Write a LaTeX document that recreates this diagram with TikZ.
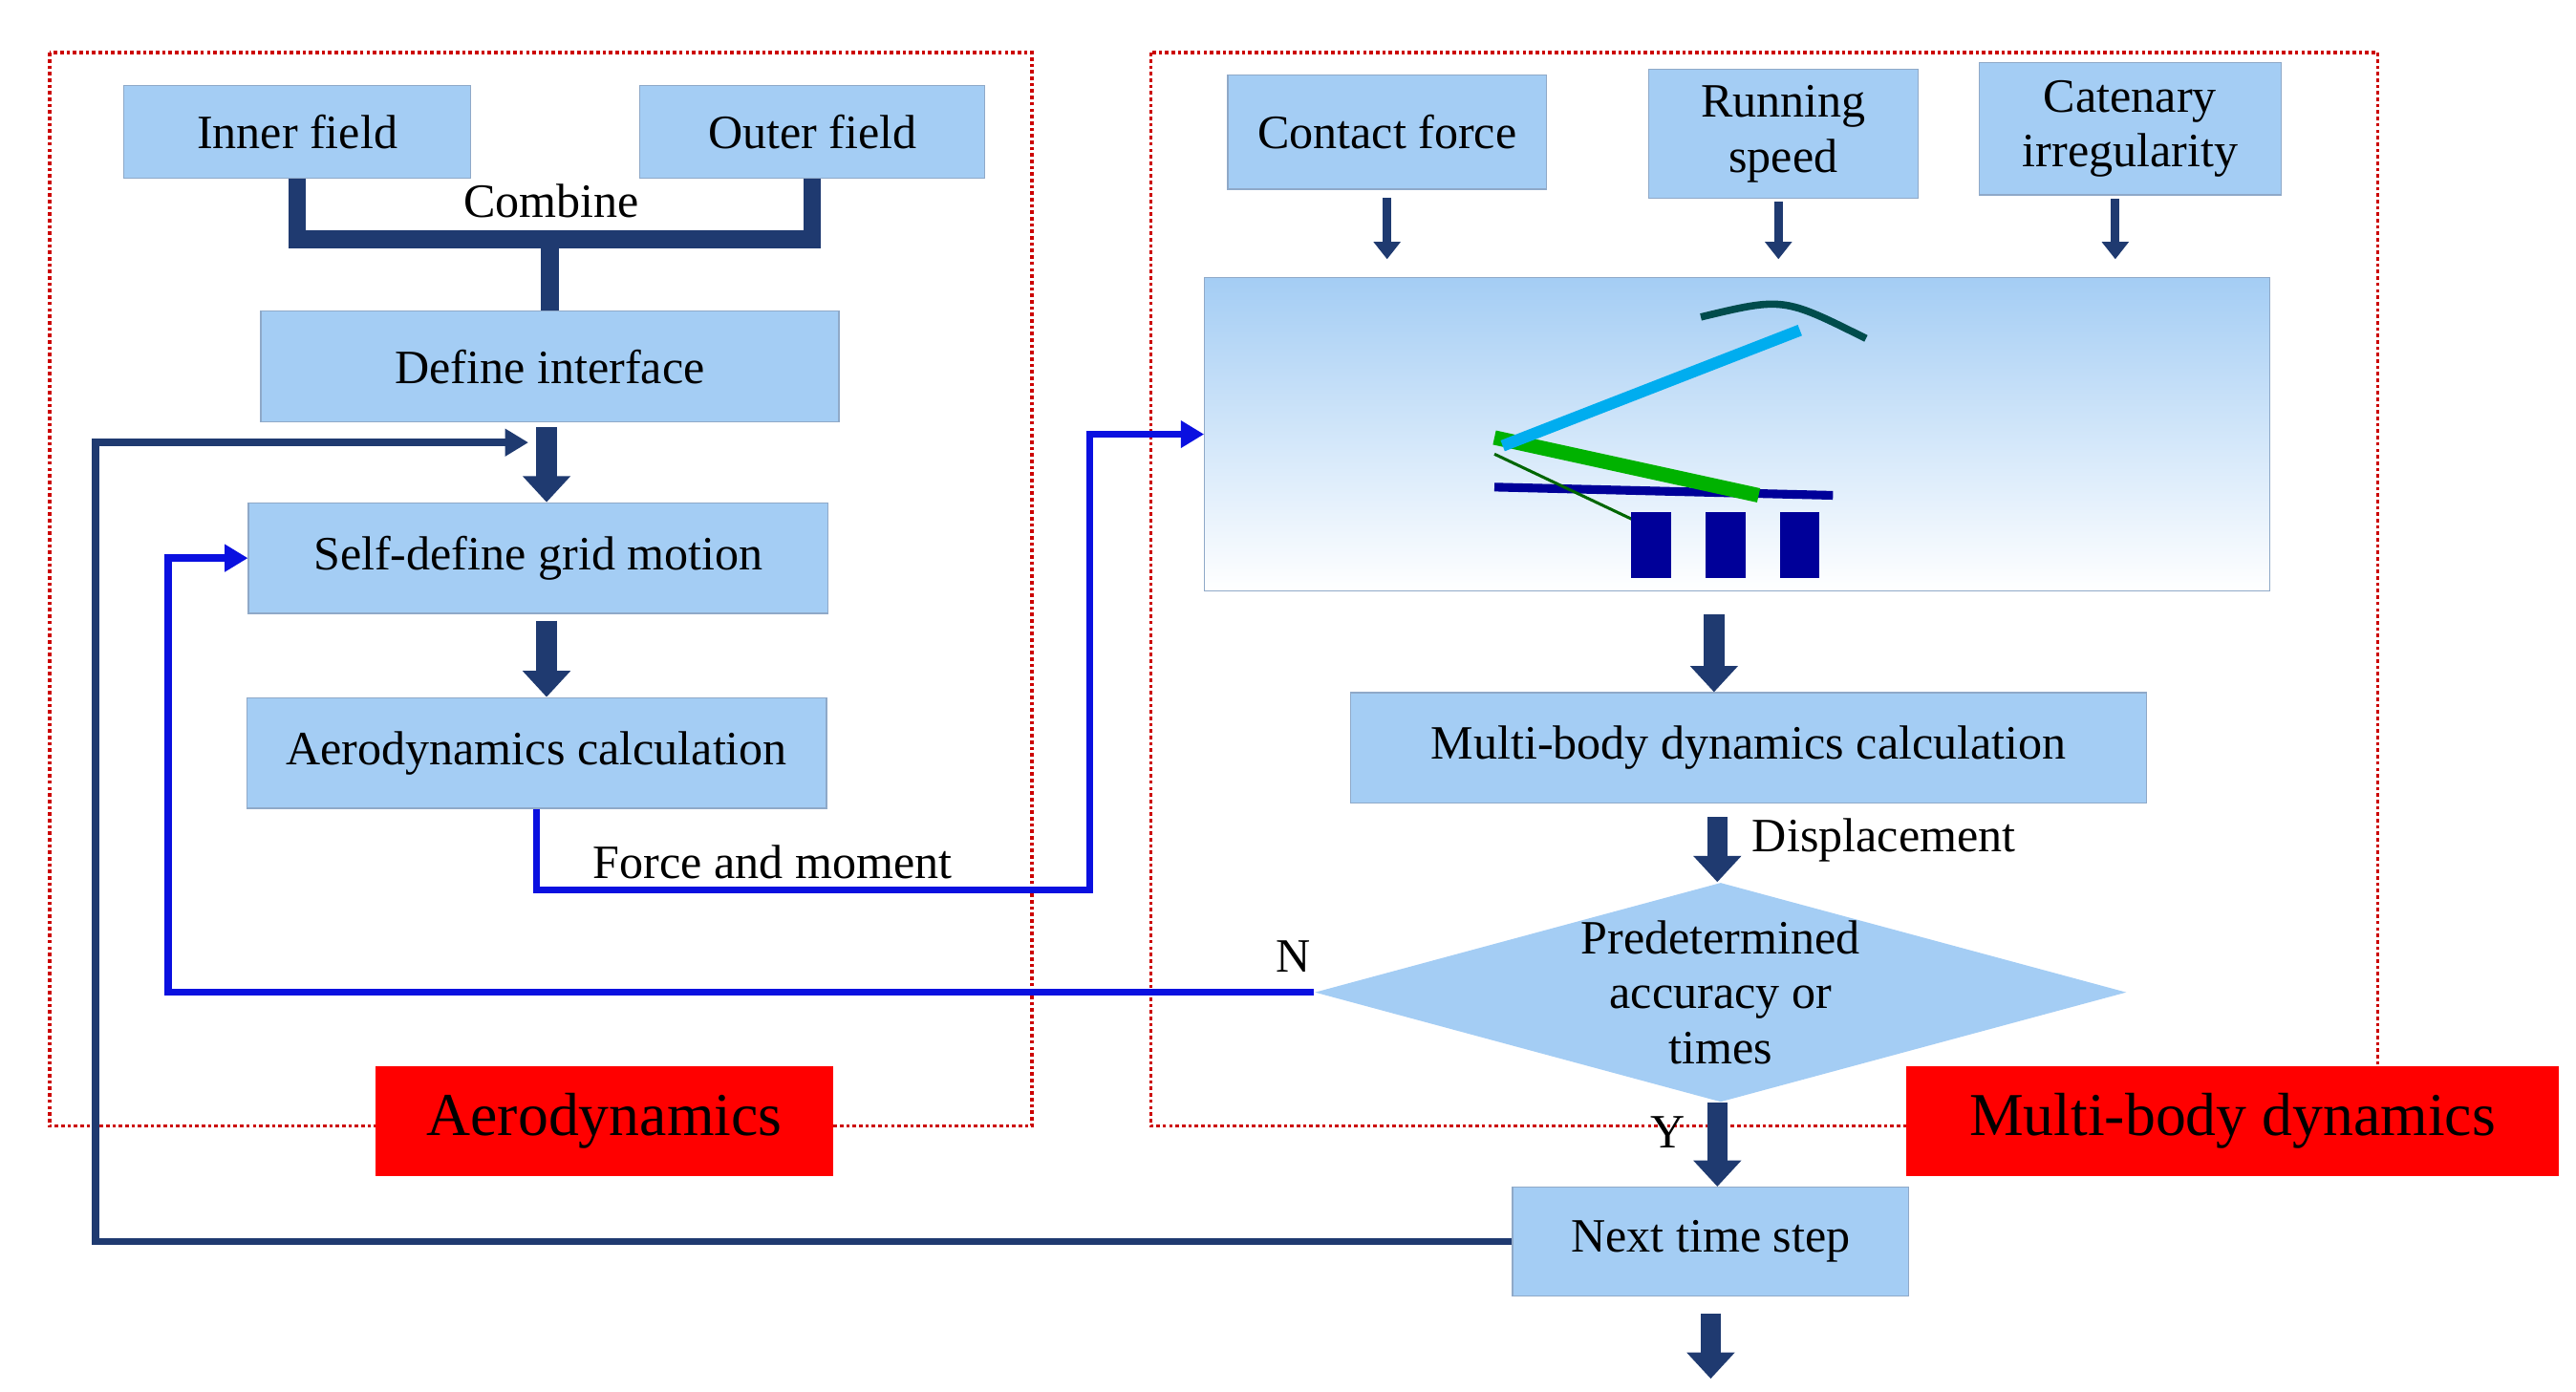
\documentclass[tikz,border=0pt]{standalone}
\usepackage{fontspec}
\setmainfont{Liberation Serif}
\usetikzlibrary{positioning, arrows.meta, shapes.geometric}

\definecolor{boxblue}{HTML}{A4CDF4}
\definecolor{edgeblue}{HTML}{8FA9C8}
\definecolor{navy}{HTML}{1F3A70}
\definecolor{flowblue}{HTML}{0A10E0}

\begin{document}
\begin{tikzpicture}[x=0.02cm, y=-0.02cm,
  every node/.style={font=\fontsize{16.5}{19}\selectfont, align=center},
  box/.style={draw=edgeblue, fill=boxblue, rectangle, inner sep=0pt},
  tag/.style={fill=red, rectangle, inner sep=0pt, font=\fontsize{21}{23}\selectfont},
  zone/.style={draw=red!80!black, densely dotted, line width=1.2pt},
  bigarrow/.style={navy, line width=7pt, -{Triangle[width=16pt, length=9pt]}},
  smallarrow/.style={navy, line width=3pt, -{Triangle[width=9pt, length=6pt]}},
  flow/.style={flowblue, line width=2.5pt, -{Triangle[width=9pt, length=8pt]}}]

\useasboundingbox (0,0) rectangle (1560,843);

  % Zones
  \draw[zone] (30,32) rectangle (625,682);
  \draw[zone] (697,32) rectangle (1440,682);

  % Aerodynamics side
  \node[box, minimum width=210*0.02cm, minimum height=56*0.02cm] (inner) at (180,80) {Inner field};
  \node[box, minimum width=209*0.02cm, minimum height=56*0.02cm] (outer) at (492,80) {Outer field};
  \node[box, minimum width=350*0.02cm, minimum height=67*0.02cm] (define) at (333,222) {Define interface};
  \node[box, minimum width=351*0.02cm, minimum height=67*0.02cm] (grid) at (326,338) {Self-define grid motion};
  \node[box, minimum width=351*0.02cm, minimum height=67*0.02cm] (aero) at (325,456) {Aerodynamics calculation};
  \node[tag, minimum width=277*0.02cm, minimum height=66*0.02cm] (aerotag) at (366,679) {Aerodynamics};

  % Multi-body side
  \node[box, minimum width=193*0.02cm, minimum height=69*0.02cm] (contact) at (840,80) {Contact force};
  \node[box, minimum width=163*0.02cm, minimum height=78*0.02cm] (speed) at (1080,81) {Running\\speed};
  \node[box, minimum width=183*0.02cm, minimum height=80*0.02cm] (catenary) at (1290,78) {Catenary\\irregularity};
  \node[draw=edgeblue, rectangle, inner sep=0pt, top color=boxblue, bottom color=white,
        minimum width=645*0.02cm, minimum height=190*0.02cm] (model) at (1052,263) {};
  \node[box, minimum width=482*0.02cm, minimum height=67*0.02cm] (mbd) at (1059,453) {Multi-body dynamics calculation};
  \node[box, diamond, aspect=3.7, minimum width=475*0.02cm, minimum height=128*0.02cm, draw=none,
        inner sep=0pt] (check) at (1042,601) {Predetermined\\accuracy or\\times};
  \node[box, minimum width=240*0.02cm, minimum height=66*0.02cm] (next) at (1036,752) {Next time step};
  \node[tag, minimum width=395*0.02cm, minimum height=66*0.02cm] (mbdtag) at (1352,679) {Multi-body dynamics};
  \coordinate (out) at (1036,835);

  % Pantograph sketch
  \draw[blue!60!black, line width=3pt] (905,295) -- (1110,300);
  \draw[green!70!black, line width=5pt] (905,265) -- (1065,300);
  \draw[cyan, line width=4pt] (910,270) -- (1090,200);
  \draw[teal!60!black, line width=2.5pt] (1030,192) .. controls (1080,180) .. (1130,205);
  \draw[green!40!black, line width=1pt] (905,275) -- (1000,320);
  \foreach \px in {1000,1045,1090} {
    \fill[blue!60!black] (\px-12,310) rectangle (\px+12,350);
  }

  % Connectors
  \draw[navy, line width=6pt] (inner.south) |- (333,145) -| (outer.south);
  \draw[navy, line width=6pt] (333,145) -- (define.north);
  \node (combine) at (334,122) {Combine};
  \draw[bigarrow] (define.south -| 331,0) ++(0,3) -- (grid.north -| 331,0);
  \draw[bigarrow] (grid.south -| 331,0) ++(0,4) -- (aero.north -| 331,0);
  \draw[flow] (aero.south) |- (660,539) |- (model.west);
  \node (force) at (468,522) {Force and moment};

  \draw[smallarrow] (contact.south) ++(0,5) -- (840,157);
  \draw[smallarrow] (speed.south -| 1077,0) ++(0,2) -- (1077,157);
  \draw[smallarrow] (catenary.south -| 1281,0) ++(0,2) -- (1281,157);
  \draw[bigarrow] (1038,372) -- (mbd.north -| 1038,0);
  \draw[bigarrow] (mbd.south -| 1040,0) ++(0,8) -- (check.north -| 1040,0);
  \node[anchor=west] (disp) at (1055,509) {Displacement};
  \draw[flow] (check.west) -| (102,338) -- (grid.west);
  \node (nlabel) at (783,579) {N};
  \draw[bigarrow] (check.south -| 1040,0) -- (next.north -| 1040,0);
  \node (ylabel) at (1010,686) {Y};
  \draw[navy, line width=2.5pt, -{Triangle[width=9pt, length=8pt]}] (next.west) -| (58,268) -- (320,268);
  \draw[bigarrow] (next.south) ++(0,10) -- (out);

\end{tikzpicture}
\end{document}
